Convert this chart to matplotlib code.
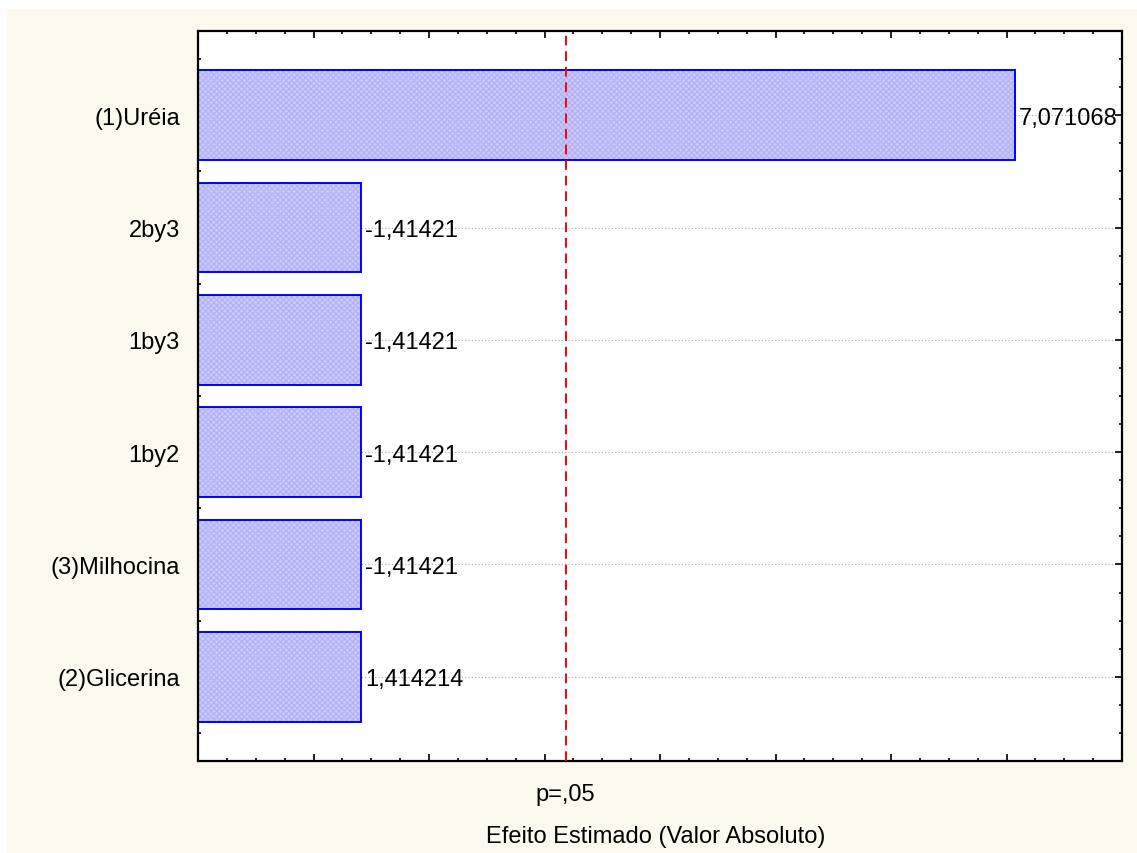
import matplotlib
matplotlib.use("Agg")
import matplotlib.pyplot as plt
from matplotlib.patches import Rectangle
from matplotlib.ticker import MultipleLocator
import matplotlib.transforms as mtransforms

plt.rcParams['font.family'] = ['Liberation Sans', 'DejaVu Sans']
plt.rcParams['hatch.linewidth'] = 0.8

# Pareto chart of standardized effects
factors = ['(1)Uréia', '2by3', '1by3', '1by2', '(3)Milhocina', '(2)Glicerina']
effects = [7.071068, -1.414214, -1.414214, -1.414214, -1.414214, 1.414214]
p_crit = 3.182446          # critical t value, p = .05
p_label = 'p=,05'
x_title = 'Efeito Estimado (Valor Absoluto)'
FS = 17


def fmt(v):
    s = f"{v:.{7 - (v < 0)}g}"
    return s.replace('.', ',')


W, H = 1137, 854
fig = plt.figure(figsize=(W / 100, H / 100), dpi=100, facecolor='white')
fig.patches.append(Rectangle((7 / W, -0.01), 1.01 - 7 / W, (H - 10) / H + 0.01,
                             transform=fig.transFigure, facecolor='#FEF9EE',
                             edgecolor='none', zorder=-10))

ax = fig.add_axes([198 / W, 1 - 762 / H, (1122 - 198) / W, (762 - 32) / H])
ax.set_facecolor('white')
ax.set_zorder(1)

ypos = list(range(len(factors)))
mags = [abs(v) for v in effects]

for y in ypos:
    ax.axhline(y, color='#A8A8A8', lw=0.8, ls=(0, (1, 2)), zorder=1)

# textured fill, then a crisp blue outline on top
ax.barh(ypos, mags, height=0.8, color='#CACAFF', edgecolor='#B0B0F4',
        linewidth=0, hatch='xxxxxx', zorder=2)
ax.barh(ypos, mags, height=0.8, fill=False, edgecolor='#0000FF',
        linewidth=1.4, zorder=2.5)

for y, m, v in zip(ypos, mags, effects):
    ax.annotate(fmt(v), xy=(m, y), xytext=(4, 0), textcoords='offset pixels',
                ha='left', va='center_baseline', fontsize=FS, zorder=4)

ax.axvline(p_crit, color='#FF0000', lw=1.4, ls=(0, (5, 3)), zorder=3)

ax.set_xlim(0, 8)
ax.set_ylim(len(factors) - 0.25, -0.75)
ax.set_yticks(ypos)
ax.set_yticklabels(factors, fontsize=FS)
for lbl in ax.get_yticklabels():
    lbl.set_va('center_baseline')
ax.yaxis.set_minor_locator(MultipleLocator(0.25))
ax.xaxis.set_major_locator(MultipleLocator(1))
ax.xaxis.set_minor_locator(MultipleLocator(0.25))
ax.set_xticklabels([])

ax.tick_params(which='both', direction='in', top=True, right=True,
               color='black', width=1.2)
ax.tick_params(which='major', length=5)
ax.tick_params(which='minor', length=2.5)
ax.tick_params(axis='y', which='major', pad=13)

for s in ax.spines.values():
    s.set_linewidth(1.6)
    s.set_color('black')

trans = mtransforms.blended_transform_factory(ax.transData, ax.transAxes)
ax.text(p_crit, -31 / 730, p_label, transform=trans, ha='center',
        va='center_baseline', fontsize=FS)

ax.set_xlabel(x_title, fontsize=FS)
ax.xaxis.set_label_coords((656 - 198) / 924, -73 / 730)
ax.xaxis.label.set_va('center_baseline')

fig.savefig('out.png', dpi=100, facecolor=fig.get_facecolor())
